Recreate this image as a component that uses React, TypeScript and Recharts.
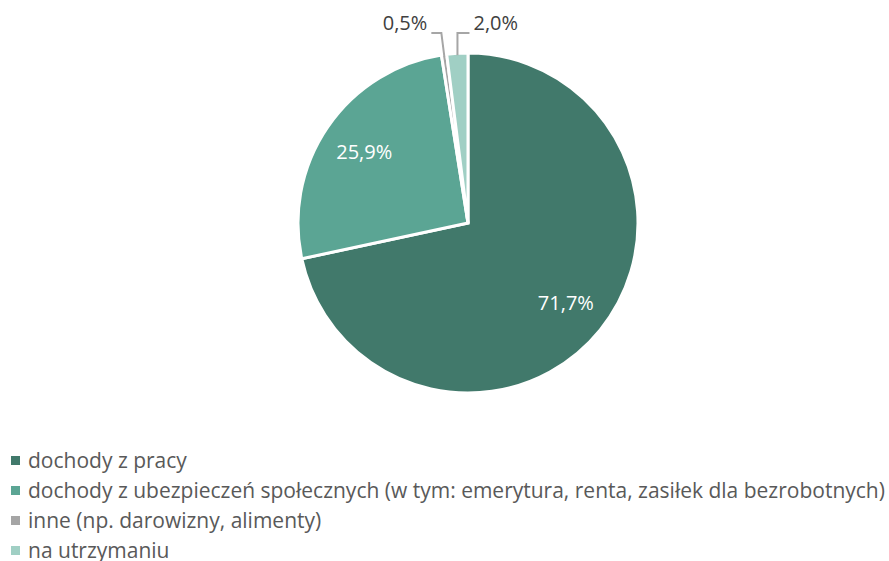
import { PieChart, Pie, Cell } from 'recharts'

const categories = [
  'dochody z pracy',
  'dochody z ubezpieczeń społecznych (w tym: emerytura, renta, zasiłek dla bezrobotnych)',
  'inne (np. darowizny, alimenty)',
  'na utrzymaniu',
]
const shares = [71.7, 25.9, 0.5, 2.0]
const labels = ['71,7%', '25,9%', '0,5%', '2,0%']
const colors = ['#41796b', '#5ba594', '#a5a5a5', '#a0cfc4']

const data = categories.map((name, i) => ({ name, value: shares[i] }))

const FONT = '"Open Sans", sans-serif'
const RAD = Math.PI / 180

function renderLabel(props: any) {
  const { cx, cy, midAngle, outerRadius, index } = props
  const cos = Math.cos(-midAngle * RAD)
  const sin = Math.sin(-midAngle * RAD)
  if (index < 2) {
    const r = outerRadius * 0.74
    return (
      <text
        x={cx + r * cos}
        y={cy + r * sin}
        fill="#ffffff"
        fontSize={20}
        fontFamily={FONT}
        textAnchor="middle"
        dominantBaseline="central"
      >
        {labels[index]}
      </text>
    )
  }
  const sx = cx + (outerRadius - 2) * cos
  const sy = cy + (outerRadius - 2) * sin
  const ey = cy - outerRadius - 20
  const left = index === 2
  const ex = left ? sx - 3 : sx
  const hx = left ? ex - 10 : ex + 12
  return (
    <g>
      <path
        d={`M${sx},${sy}L${ex},${ey}L${hx},${ey}`}
        stroke="#a6a6a6"
        strokeWidth={2}
        fill="none"
      />
      <text
        x={left ? hx - 4 : hx + 4}
        y={ey - 10}
        fill="#404040"
        fontSize={20}
        fontFamily={FONT}
        textAnchor={left ? 'end' : 'start'}
        dominantBaseline="central"
      >
        {labels[index]}
      </text>
    </g>
  )
}

export default function App() {
  return (
    <div style={{ position: 'absolute', left: 0, top: 0, width: 889, height: 561, background: '#fff', overflow: 'hidden' }}>
      <PieChart width={889} height={561} margin={{ top: 0, right: 0, bottom: 0, left: 0 }}>
        <Pie
          data={data}
          dataKey="value"
          nameKey="name"
          cx="52.643%"
          cy="39.75%"
          outerRadius={170}
          startAngle={90}
          endAngle={-270}
          stroke="#ffffff"
          strokeWidth={3}
          label={renderLabel}
          labelLine={false}
          isAnimationActive={false}
        >
          {data.map((d, i) => (
            <Cell key={d.name} fill={colors[i]} />
          ))}
        </Pie>
      </PieChart>
      <div
        style={{
          position: 'absolute',
          left: 0,
          top: 445,
          fontFamily: FONT,
          fontSize: 21,
          color: '#595959',
        }}
      >
        {data.map((d, i) => (
          <div key={d.name} style={{ display: 'flex', alignItems: 'center', height: 30, whiteSpace: 'nowrap' }}>
            <span
              style={{
                display: 'inline-block',
                width: 9,
                height: 9,
                background: colors[i],
                marginLeft: 11,
                marginRight: 8,
              }}
            />
            {d.name}
          </div>
        ))}
      </div>
    </div>
  )
}
